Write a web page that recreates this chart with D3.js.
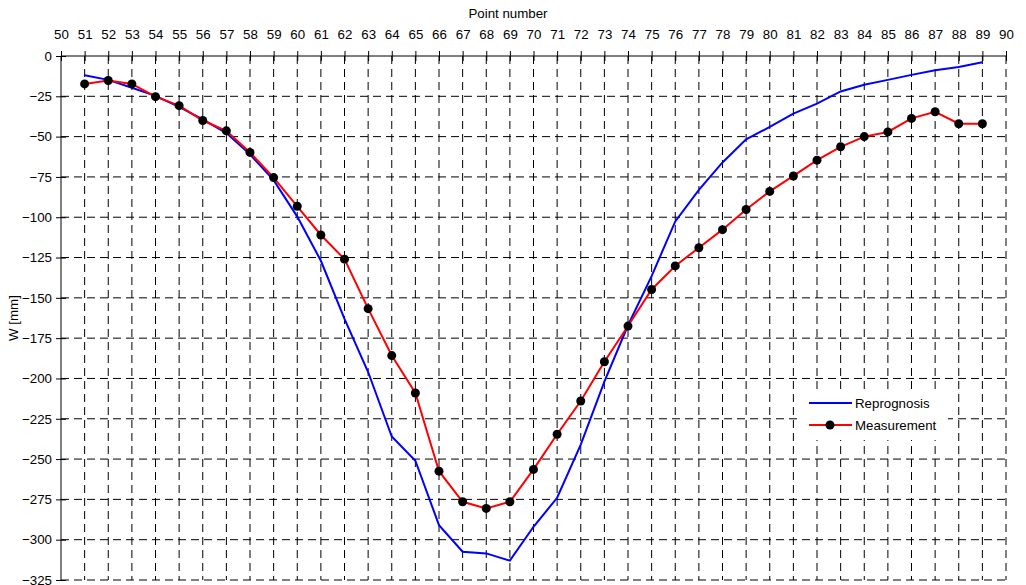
<!DOCTYPE html>
<html>
<head>
<meta charset="utf-8">
<script src="https://cdn.jsdelivr.net/npm/d3@7"></script>
<style>
  body { margin: 0; background: #fff; }
  svg { display: block; font-family: Arial, "Liberation Sans", sans-serif; }
</style>
</head>
<body>
<svg id="chart" width="1026" height="585"></svg>
<script>
const pointNumbers = d3.range(51, 90);
const reprognosis = [-12, -14.8, -19.7, -24.7, -31.5, -39.3, -47.8, -61, -77, -99.6,
  -127, -163, -196, -236, -251, -291, -307.5, -308.5, -313, -292,
  -274, -241, -202, -167, -136.5, -102.6, -83, -66, -51.7, -44,
  -35.7, -29.5, -22, -17.8, -14.8, -11.7, -8.8, -6.8, -3.9];
const measurement = [-17.3, -15.2, -17.3, -25.2, -30.8, -40, -46.4, -59.8, -75.4, -93.2,
  -111, -126, -156.7, -185.8, -209, -257.5, -276.5, -280.6, -276.5, -256.4,
  -234.6, -214, -189.6, -167.5, -144.8, -130.2, -118.9, -107.7, -95.2, -84,
  -74.4, -64.6, -56.3, -50, -47.1, -38.7, -34.6, -42, -42];
const xTicks = d3.range(50, 91);
const yTicks = d3.range(0, -326, -25);
const seriesNames = ["Reprognosis", "Measurement"];

(function () {
const svg = d3.select("#chart");
const mLeft = 61, mRight = 1006, mTop = 56, mBottom = 580;
const x = d3.scaleLinear().domain([50, 90]).range([mLeft, mRight]);
const y = d3.scaleLinear().domain([0, -325]).range([mTop, mBottom]);
const fs = "13.3px";
const ff = "Arial, 'Liberation Sans', sans-serif";

// grid
const grid = svg.append("g").attr("stroke", "#000").attr("stroke-width", 1)
  .attr("stroke-dasharray", "8,5").attr("fill", "none");
grid.selectAll(".vg").data(xTicks.filter(d => d > 50)).join("line")
  .attr("x1", d => x(d)).attr("x2", d => x(d))
  .attr("y1", mTop).attr("y2", mBottom);
grid.selectAll(".hg").data(yTicks.filter(d => d < 0)).join("line")
  .attr("x1", mLeft).attr("x2", mRight)
  .attr("y1", d => y(d)).attr("y2", d => y(d));

// x axis (top)
const xAxis = svg.append("g").attr("transform", `translate(0,${mTop})`)
  .call(d3.axisTop(x).tickValues(xTicks).tickFormat(d3.format("d")).tickSize(5).tickPadding(12));
xAxis.select(".domain").attr("d", `M${mLeft},0H${mRight}`).attr("stroke", "#000");
xAxis.selectAll(".tick line").attr("y1", -5).attr("y2", 5).attr("stroke", "#000");
xAxis.selectAll(".tick text").attr("font-size", fs).attr("fill", "#000").attr("font-family", ff);

// y axis
const yAxis = svg.append("g").attr("transform", `translate(${mLeft},0)`)
  .call(d3.axisLeft(y).tickValues(yTicks).tickFormat(d3.format("d")).tickSize(5).tickPadding(4));
yAxis.select(".domain").attr("d", `M0,${mTop}V${mBottom}`).attr("stroke", "#000");
yAxis.selectAll(".tick line").attr("x1", -5).attr("x2", 5).attr("stroke", "#000");
yAxis.selectAll(".tick text").attr("font-size", fs).attr("fill", "#000").attr("font-family", ff);

// axis titles
svg.append("text").attr("x", 508).attr("y", 18).attr("text-anchor", "middle")
  .attr("font-size", fs).text("Point number");
svg.append("text").attr("transform", `translate(18,${(mTop + mBottom) / 2}) rotate(-90)`)
  .attr("text-anchor", "middle").attr("font-size", fs).text("W [mm]");

// lines
const line = d3.line().x((d, i) => x(pointNumbers[i])).y(d => y(d));
svg.append("path").datum(reprognosis).attr("d", line)
  .attr("fill", "none").attr("stroke", "#0000ff").attr("stroke-width", 2);
svg.append("path").datum(measurement).attr("d", line)
  .attr("fill", "none").attr("stroke", "#ff0000").attr("stroke-width", 2);
svg.append("g").selectAll("circle").data(measurement).join("circle")
  .attr("cx", (d, i) => x(pointNumbers[i])).attr("cy", d => y(d)).attr("r", 4.5)
  .attr("fill", "#000");

// legend
const lg = svg.append("g").attr("transform", "translate(797,390)");
lg.append("rect").attr("width", 151).attr("height", 50).attr("fill", "#fff");
const colors = ["#0000ff", "#ff0000"];
seriesNames.forEach((name, i) => {
  const yy = 13 + i * 22;
  lg.append("line").attr("x1", 12).attr("x2", 55).attr("y1", yy).attr("y2", yy)
    .attr("stroke", colors[i]).attr("stroke-width", 2);
  if (i === 1) lg.append("circle").attr("cx", 33).attr("cy", yy).attr("r", 4.5).attr("fill", "#000");
  lg.append("text").attr("x", 58).attr("y", yy).attr("dy", "0.35em")
    .attr("font-size", fs).text(name);
});
})();
</script>
</body>
</html>
